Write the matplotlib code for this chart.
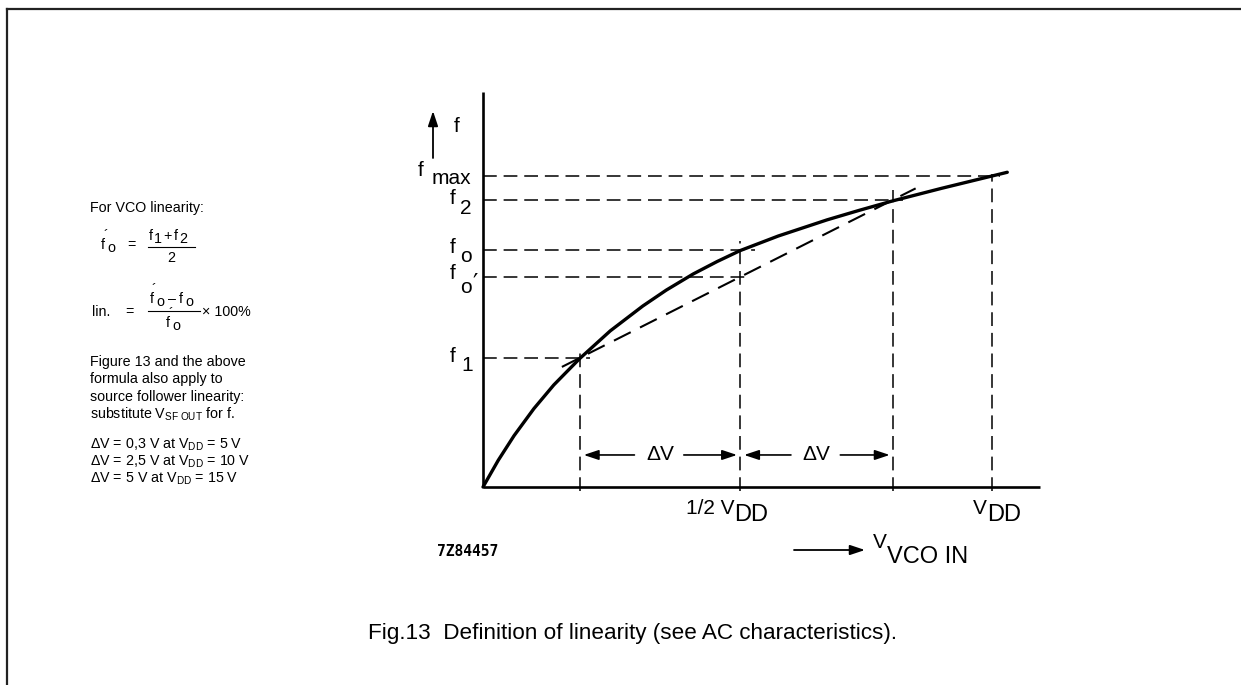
import matplotlib
matplotlib.use("Agg")
import matplotlib.pyplot as plt

# ---------------- data (normalised: V in units of VDD, f in units of fmax) -------------
curve_v = [0.0, 0.03, 0.061, 0.1, 0.139, 0.19, 0.25, 0.314, 0.36, 0.413, 0.46, 0.505,
           0.58, 0.676, 0.74, 0.805, 0.9, 1.0, 1.03]
curve_f = [0.0, 0.086, 0.165, 0.252, 0.328, 0.413, 0.502, 0.582, 0.633, 0.685, 0.725,
           0.760, 0.807, 0.859, 0.890, 0.920, 0.960, 1.0, 1.012]

v_points = [0.19, 0.505, 0.805, 1.0]          # V1, 1/2 VDD, V2, VDD
f_levels = [0.415, 0.675, 0.762, 0.923, 1.0]  # f1, fo', fo, f2, fmax

chord_v = [0.155, 0.85]

W, H = 1241, 685
FONT = ["Liberation Sans", "DejaVu Sans"]
plt.rcParams["font.family"] = FONT
plt.rcParams["mathtext.fontset"] = "custom"
plt.rcParams["mathtext.rm"] = "Liberation Sans"
plt.rcParams["mathtext.it"] = "Liberation Sans"

fig = plt.figure(figsize=(W / 100, H / 100), dpi=100)
fig.patch.set_facecolor("white")

# chart axes: origin at pixel (483, 487); 509 px per VDD, 311 px per fmax
X0, Y0, SX, SY = 483, 487, 509, 311
ax = fig.add_axes([0, 0, 1, 1])
ax.set_xlim(-X0 / SX, (W - X0) / SX)
ax.set_ylim(-(H - Y0) / SY, Y0 / SY)
ax.axis("off")

# frame (top and left border)
fig.add_artist(plt.Line2D([7 / W, 1], [1 - 9 / H, 1 - 9 / H], transform=fig.transFigure,
                          color="#222222", lw=1.6))
fig.add_artist(plt.Line2D([7 / W, 7 / W], [0, 1 - 9 / H], transform=fig.transFigure,
                          color="#222222", lw=1.6))

# axes lines
ax.plot([0, 0], [0, 1.27], color="black", lw=1.9, solid_capstyle="butt")
ax.plot([0, 1.094], [0, 0], color="black", lw=1.9, solid_capstyle="butt")

dash_kw = dict(color="black", lw=1.1, dashes=(9, 4.5))

f1, fop, fo, f2, fmax = f_levels
v1, vmid, v2, vdd = v_points

# horizontal dashed lines
h_ends = [v1 + 0.02, vmid + 0.015, vmid + 0.03, v2 + 0.02, vdd + 0.015]
for lev, end in zip(f_levels, h_ends):
    ax.plot([0, end], [lev, lev], **dash_kw)

# vertical dashed lines
v_tops = [f1 + 0.02, 0.79, 0.955, fmax + 0.005]
for vv, top in zip(v_points, v_tops):
    ax.plot([vv, vv], [-0.012, top], **dash_kw)

# chord (dashed straight line through f1 and f2)
slope = (f2 - f1) / (v2 - v1)
chord_f = [f1 + slope * (c - v1) for c in chord_v]
ax.plot(chord_v, chord_f, color="black", lw=1.5, dashes=(9, 5))

# curve
ax.plot(curve_v, curve_f, color="black", lw=2.4, solid_capstyle="round",
        solid_joinstyle="round")

# delta V arrows
yarr = 0.103
arrow_kw = dict(arrowstyle="-|>,head_length=0.9,head_width=0.3", color="black", lw=1.2,
                shrinkA=0, shrinkB=0)
CF = 15
CS = 17
for a, b in [(v1, vmid), (vmid, v2)]:
    c = (a + b) / 2
    ax.annotate("", xy=(a + 0.008, yarr), xytext=(c - 0.05, yarr), arrowprops=arrow_kw)
    ax.annotate("", xy=(b - 0.006, yarr), xytext=(c + 0.047, yarr), arrowprops=arrow_kw)
    ax.text(c, yarr, "ΔV", ha="center", va="center", fontsize=CF, family=FONT)

# y labels (pixel x, data y)
def ylab(level, fx, fdy, sub, sx, sdy):
    ax.annotate("f", xy=(fx, level), xycoords=("figure pixels", "data"),
                xytext=(0, -fdy), textcoords="offset pixels",
                ha="left", va="center", fontsize=CF)
    ax.annotate(sub, xy=(sx, level), xycoords=("figure pixels", "data"),
                xytext=(0, -sdy), textcoords="offset pixels",
                ha="left", va="center", fontsize=CF)

ylab(fmax, 418, -6, "max", 432, 2)
ylab(f2, 450, -1, "2", 460, 9)
ylab(fo, 450, -3, "o", 460, 6)
ylab(fop, 450, -4, "o", 460, 10)
ax.annotate("′", xy=(473, fop), xycoords=("figure pixels", "data"), xytext=(0, -6),
            textcoords="offset pixels", ha="left", va="center", fontsize=17,
            family=["DejaVu Sans"])
ylab(f1, 450, -1, "1", 461, 8)

# f axis arrow
ax.annotate("", xy=(433, H - 111), xycoords="figure pixels", xytext=(433, H - 158),
            textcoords="figure pixels",
            arrowprops=dict(arrowstyle="-|>,head_length=0.9,head_width=0.3",
                            color="black", lw=1.3, shrinkA=0, shrinkB=0))
fig.text(454 / W, 1 - 127 / H, "f", ha="left", va="center", fontsize=CF)

# x labels
def xlab(main, mx, sub, sx):
    fig.text(mx / W, 1 - 508 / H, main, ha="right", va="center", fontsize=CF)
    fig.text(sx / W, 1 - 515 / H, sub, ha="left", va="center", fontsize=CS)

xlab("1/2 V", 734, "DD", 734)
xlab("V", 987, "DD", 987)

# V_VCO IN arrow
ax.annotate("", xy=(865, H - 550), xycoords="figure pixels", xytext=(794, H - 550),
            textcoords="figure pixels",
            arrowprops=dict(arrowstyle="-|>,head_length=0.9,head_width=0.3",
                            color="black", lw=1.3, shrinkA=0, shrinkB=0))
fig.text(873 / W, 1 - 543 / H, "V", ha="left", va="center", fontsize=CF)
fig.text(887 / W, 1 - 557 / H, "VCO IN", ha="left", va="center", fontsize=CS)

fig.text(437 / W, 1 - 551 / H, "7Z84457", ha="left", va="center", fontsize=10.5,
         family=["DejaVu Sans Mono"], weight="bold")

# ---------------- left text column ----------------
LF = 10.3
def T(x, y, s, **kw):
    kw.setdefault("fontsize", LF)
    kw.setdefault("ha", "left")
    kw.setdefault("va", "center")
    fig.text(x / W, 1 - y / H, s, **kw)

def hbar(x0, x1, y):
    fig.add_artist(plt.Line2D([x0 / W, x1 / W], [1 - y / H, 1 - y / H],
                              transform=fig.transFigure, color="black", lw=0.8))

T(90, 208, "For VCO linearity:")

# f'o = (f1 + f2) / 2
T(101, 245, "f")
T(103, 236, "´")
T(107, 248, "o")
T(127, 245, "=")
T(149, 236, "f")
T(154, 239, "1")
T(163, 236, "+")
T(174, 236, "f")
T(179, 239, "2")
hbar(148, 195, 247)
T(171, 258, "2", ha="center")

# lin. = (f'o - fo) / f'o x 100%
T(92, 312, "lin.")
T(125, 312, "=")
T(150, 299, "f")
T(152, 290, "´")
T(156, 302, "o")
T(168, 299, "–")
T(179, 299, "f")
T(185, 302, "o")
hbar(148, 200, 311)
T(166, 323, "f")
T(168, 314, "´")
T(172, 326, "o")
T(202, 312, "× 100%")

para = ["Figure 13 and the above",
        "formula also apply to",
        "source follower linearity:",
        r"substitute V$_{\mathrm{SF\ OUT}}$ for f."]
for i, s in enumerate(para):
    T(90, 362 + i * 17.3, s)

dv_lines = [r"ΔV = 0,3 V at V$_{\mathrm{DD}}$ = 5 V",
            r"ΔV = 2,5 V at V$_{\mathrm{DD}}$ = 10 V",
            r"ΔV = 5 V at V$_{\mathrm{DD}}$ = 15 V"]
for i, s in enumerate(dv_lines):
    T(90, 445 + i * 17, s)

fig.text(633 / W, 1 - 633 / H, "Fig.13  Definition of linearity (see AC characteristics).",
         ha="center", va="center", fontsize=16.2)

fig.savefig("out.png", dpi=100, facecolor="white")
